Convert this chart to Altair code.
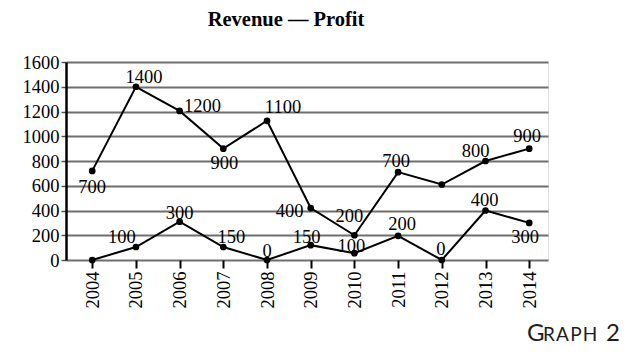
import altair as alt
import pandas as pd

years = list(range(2004, 2015))
revenue = [720, 1400, 1205, 900, 1125, 420, 200, 710, 610, 800, 900]
profit = [0, 105, 310, 105, 0, 120, 55, 195, 0, 400, 300]
revenue_labels = ["700", "1400", "1200", "900", "1100", "400", "200", "700", "", "800", "900"]
profit_labels = ["", "100", "300", "150", "0", "150", "100", "200", "0", "400", "300"]
y_ticks = [0, 200, 400, 600, 800, 1000, 1200, 1400, 1600]

# label offsets (pixels) relative to each point
revenue_dx = [0, 8, 23, 1, 16, -21, -5, -2, 0, -10, -2]
revenue_dy = [16, -10, -5, 14, -14, 3, -19, -11, 0, -10, -13]
profit_dx = [0, -14, 0, 8, 0, -4, -3, 4, -1, -1, -4]
profit_dy = [0, -10, -9, -10, -9, -8, -7, -12, -11, -11, 14]

df = pd.DataFrame({
    "year": years * 2,
    "value": revenue + profit,
    "series": ["Revenue"] * len(years) + ["Profit"] * len(years),
    "label": revenue_labels + profit_labels,
})
df["idx"] = range(len(df))
dxs = revenue_dx + profit_dx
dys = revenue_dy + profit_dy

SERIF = "Liberation Serif"
FS = 18.5

x_enc = alt.X("year:Q", scale=alt.Scale(domain=[2003.4, 2014.43], nice=False, zero=False),
              axis=alt.Axis(values=years, format="d", labelAngle=-90, title=None,
                            labelFont=SERIF, labelFontSize=FS, labelColor="black",
                            grid=False, domain=False, tickColor="black", tickWidth=2,
                            tickSize=8, labelPadding=3, labelAlign="right", labelBaseline="middle",
                            labelOverlap=False, labelFlush=False))
y_enc = alt.Y("value:Q", scale=alt.Scale(domain=[0, 1600], nice=False),
              axis=alt.Axis(values=y_ticks, tickCount=9, format="d", title=None, labelFont=SERIF,
                            labelFontSize=FS, labelColor="black", grid=True, gridColor="#6e6e6e",
                            gridWidth=1.8, domain=True, domainColor="black", domainWidth=2.5,
                            tickColor="#555555", tickSize=5, tickWidth=1.5, labelPadding=2,
                            labelOverlap=False, labelFlush=False))

base = alt.Chart(df)

lines = base.mark_line(color="black", strokeWidth=2).encode(
    x=x_enc, y=y_enc, detail="series:N")
points = base.mark_circle(color="black", opacity=1, size=45).encode(
    x=x_enc, y=y_enc)

layers = [lines, points]
for i, row in df.iterrows():
    if row["label"] == "":
        continue
    layers.append(
        base.transform_filter(alt.datum.idx == int(row["idx"])).mark_text(
            font=SERIF, fontSize=FS, color="black", align="center", baseline="middle",
            dx=dxs[i], dy=dys[i]
        ).encode(x=x_enc, y=y_enc, text="label:N")
    )

title = alt.Chart(pd.DataFrame({"t": ["Revenue — Profit"]})).mark_text(
    font=SERIF, fontSize=20.5, fontWeight="bold", color="black", align="center", baseline="middle"
).encode(x=alt.value(220), y=alt.value(-42), text="t:N")

g1 = alt.Chart(pd.DataFrame({"t": ["G"]})).mark_text(
    font="Lato", fontSize=24, color="#1e1e1e", align="left", baseline="alphabetic"
).encode(x=alt.value(461), y=alt.value(279), text="t:N")
g2 = alt.Chart(pd.DataFrame({"t": ["R\u200aA\u200aP\u200aH"]})).mark_text(
    font="Lato", fontSize=19, color="#1e1e1e", align="left", baseline="alphabetic"
).encode(x=alt.value(477), y=alt.value(279), text="t:N")
g3 = alt.Chart(pd.DataFrame({"t": ["2"]})).mark_text(
    font="Lato", fontSize=24, color="#1e1e1e", align="left", baseline="alphabetic"
).encode(x=alt.value(540), y=alt.value(279), text="t:N")

chart = alt.layer(*layers, title, g1, g2, g3).properties(
    width=482, height=198,
    autosize=alt.AutoSizeParams(type="none"),
    padding={"left": 66, "top": 62, "right": 92, "bottom": 95},
).configure_view(stroke=None).configure(background="white")

chart.save("out.html", embed_options={"renderer": "svg", "actions": False})
